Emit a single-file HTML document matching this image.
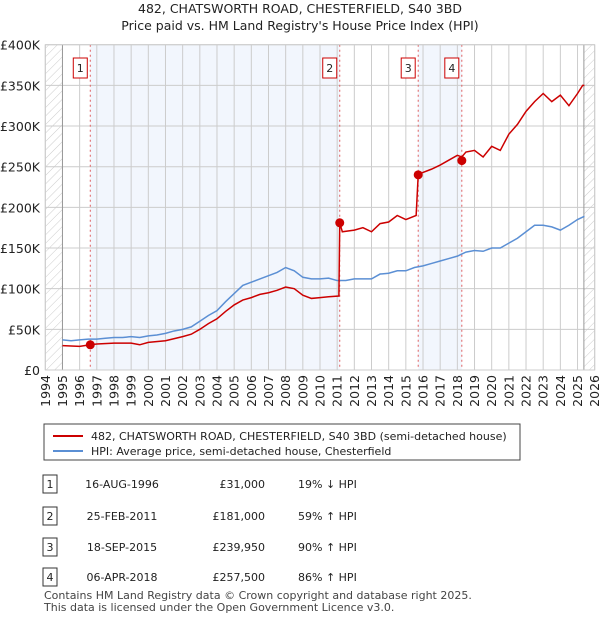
<!DOCTYPE html>
<html><head><meta charset="utf-8"><style>
body{margin:0;background:#fff;font-family:"Liberation Sans","DejaVu Sans",sans-serif;}
svg text{font-family:"DejaVu Sans","Liberation Sans",sans-serif;}
</style></head><body>
<svg id="c" width="600" height="620" xmlns="http://www.w3.org/2000/svg">
<defs><pattern id="hatch" width="6" height="6" patternUnits="userSpaceOnUse" patternTransform="rotate(45)"><line x1="0" y1="0" x2="0" y2="6" stroke="#ccc" stroke-width="1"/></pattern></defs>
<text x="300" y="13" text-anchor="middle" font-size="12.5" fill="#222">482, CHATSWORTH ROAD, CHESTERFIELD, S40 3BD</text>
<text x="300" y="30" text-anchor="middle" font-size="12.5" fill="#222">Price paid vs. HM Land Registry's House Price Index (HPI)</text>
<g id="plot"></g>
<g>
<rect x="44" y="424" width="476" height="36" fill="#fff" stroke="#444"/>
<line x1="53" y1="436" x2="83" y2="436" stroke="#cc0000" stroke-width="2"/>
<text x="91" y="440" font-size="11" fill="#222">482, CHATSWORTH ROAD, CHESTERFIELD, S40 3BD (semi-detached house)</text>
<line x1="53" y1="451" x2="83" y2="451" stroke="#5b8fd4" stroke-width="2"/>
<text x="91" y="455" font-size="11" fill="#222">HPI: Average price, semi-detached house, Chesterfield</text>
</g>
<g id="table" font-size="11" fill="#222"></g>
<text x="44" y="599" font-size="11" fill="#444">Contains HM Land Registry data © Crown copyright and database right 2025.</text>
<text x="44" y="611" font-size="11" fill="#444">This data is licensed under the Open Government Licence v3.0.</text>
</svg>
<script>
const hpiYears=[1995,1995.5,1996,1996.5,1997,1997.5,1998,1998.5,1999,1999.5,2000,2000.5,2001,2001.5,2002,2002.5,2003,2003.5,2004,2004.5,2005,2005.5,2006,2006.5,2007,2007.5,2008,2008.5,2009,2009.5,2010,2010.5,2011,2011.5,2012,2012.5,2013,2013.5,2014,2014.5,2015,2015.5,2016,2016.5,2017,2017.5,2018,2018.5,2019,2019.5,2020,2020.5,2021,2021.5,2022,2022.5,2023,2023.5,2024,2024.5,2025,2025.4];
const hpiValues=[37,36,37,38,38,39,40,40,41,40,42,43,45,48,50,53,60,67,73,84,94,104,108,112,116,120,126,122,114,112,112,113,110,110,112,112,112,118,119,122,122,126,128,131,134,137,140,145,147,146,150,150,156,162,170,178,178,176,172,178,185,189];
const priceYears=[1995,1996,1996.62,1997,1998,1999,1999.5,2000,2001,2002,2002.5,2003,2003.5,2004,2004.5,2005,2005.5,2006,2006.5,2007,2007.5,2008,2008.5,2009,2009.5,2010,2010.5,2011.1,2011.15,2011.3,2012,2012.5,2013,2013.5,2014,2014.5,2015,2015.6,2015.72,2016,2016.5,2017,2017.5,2018,2018.26,2018.5,2019,2019.5,2020,2020.5,2021,2021.5,2022,2022.5,2023,2023.5,2024,2024.5,2025,2025.3,2025.4];
const priceValues=[30,29,31,32,33,33,31,34,36,41,44,50,57,63,72,80,86,89,93,95,98,102,100,92,88,89,90,91,181,170,172,175,170,180,182,190,185,190,240,243,247,252,258,264,262,268,270,262,275,270,290,302,318,330,340,330,338,325,340,350,350];
const saleYears=[1996.62,2011.15,2015.72,2018.26];
const saleValues=[31,181,239.95,257.5];
const saleLabels=["1","2","3","4"];
const saleDates=["16-AUG-1996","25-FEB-2011","18-SEP-2015","06-APR-2018"];
const salePrices=["£31,000","£181,000","£239,950","£257,500"];
const saleHpi=["19% ↓ HPI","59% ↑ HPI","90% ↑ HPI","86% ↑ HPI"];
const yTicks=[0,50,100,150,200,250,300,350,400];
const yTickLabels=["£0","£50K","£100K","£150K","£200K","£250K","£300K","£350K","£400K"];
const xTicks=[1994,1995,1996,1997,1998,1999,2000,2001,2002,2003,2004,2005,2006,2007,2008,2009,2010,2011,2012,2013,2014,2015,2016,2017,2018,2019,2020,2021,2022,2023,2024,2025,2026];

const X0=45.3,X1=594.7,Y0=370,Y1=44.7;
const x=y=>X0+(y-1994)/32*(X1-X0);
const yy=v=>Y0-v/400*(Y0-Y1);
const NS="http://www.w3.org/2000/svg";
const g=document.getElementById('plot');
function mk(t,a,p){const e=document.createElementNS(NS,t);for(const k in a)e.setAttribute(k,a[k]);(p||g).appendChild(e);return e;}

let e;
e=mk('rect',{x:x(saleYears[0]),y:Y1,width:x(saleYears[1])-x(saleYears[0]),height:Y0-Y1,fill:'#eef3fc',opacity:0.75});


e=mk('rect',{x:x(saleYears[2]),y:Y1,width:x(saleYears[3])-x(saleYears[2]),height:Y0-Y1,fill:'#eef3fc',opacity:0.75});


e=mk('rect',{x:X0,y:Y1,width:x(1995)-X0,height:Y0-Y1,fill:'url(#hatch)'});


e=mk('rect',{x:x(2025.37),y:Y1,width:X1-x(2025.37),height:Y0-Y1,fill:'url(#hatch)'});



yTicks.forEach((v,i)=>{
  e=mk('line',{x1:X0,x2:X1,y1:yy(v),y2:yy(v),stroke:'#ccc','stroke-width':1});
  
  
  e=mk('text',{x:40,y:yy(v)+5,'text-anchor':'end','font-size':12.5,fill:'#222'});
  e.textContent=yTickLabels[i];
  
  
});
xTicks.forEach(t=>{
  e=mk('line',{x1:x(t),x2:x(t),y1:Y1,y2:Y0,stroke:'#ccc','stroke-width':1});
  
  
  e=mk('text',{x:0,y:0,'text-anchor':'end','font-size':12.5,fill:'#222',transform:`translate(${x(t)+4.5},375) rotate(-90)`});
  e.textContent=t;
  
  
});
e=mk('line',{x1:x(1995),x2:x(1995),y1:Y1,y2:Y0,stroke:'#999'});


e=mk('line',{x1:x(2025.37),x2:x(2025.37),y1:Y1,y2:Y0,stroke:'#999'});



saleYears.forEach((s,i)=>{
  e=mk('line',{x1:x(s),x2:x(s),y1:Y1,y2:Y0,stroke:'#e06060','stroke-dasharray':'2,3','stroke-width':1});
  
  
  e=mk('rect',{x:x(s)-17,y:58,width:14,height:20,fill:'#fff',stroke:'#cc0000'});
  
  
  e=mk('text',{x:x(s)-10,y:72,'text-anchor':'middle','font-size':11,fill:'#222'});
  e.textContent=saleLabels[i];
  
  
});

e=mk('polyline',{points:hpiYears.map((t,i)=>x(t)+','+yy(hpiValues[i])).join(' '),fill:'none',stroke:'#5b8fd4','stroke-width':1.5});


e=mk('polyline',{points:priceYears.map((t,i)=>x(t)+','+yy(priceValues[i])).join(' '),fill:'none',stroke:'#cc0000','stroke-width':1.5});


saleYears.forEach((s,i)=>{
  e=mk('circle',{cx:x(s),cy:yy(saleValues[i]),r:4.5,fill:'#cc0000'});
  
  
});
e=mk('rect',{x:X0,y:Y1,width:X1-X0,height:Y0-Y1,fill:'none',stroke:'#ccc'});



const tb=document.getElementById('table');
const rowY=[484,516,547,577];
saleLabels.forEach((l,i)=>{
  const r=rowY[i];
  e=mk('rect',{x:43,y:r-9,width:14,height:18,fill:'#fff',stroke:'#333'},tb);
  
  
  const cells=[[50,l,'middle'],[122,saleDates[i],'middle'],[265,salePrices[i],'end'],[298,saleHpi[i],'start']];
  cells.forEach(c=>{
    e=mk('text',{x:c[0],y:r+4,'text-anchor':c[2],'font-size':11,fill:'#222'},tb);
    e.textContent=c[1];
    
    
  });
});
</script>
</body></html>
